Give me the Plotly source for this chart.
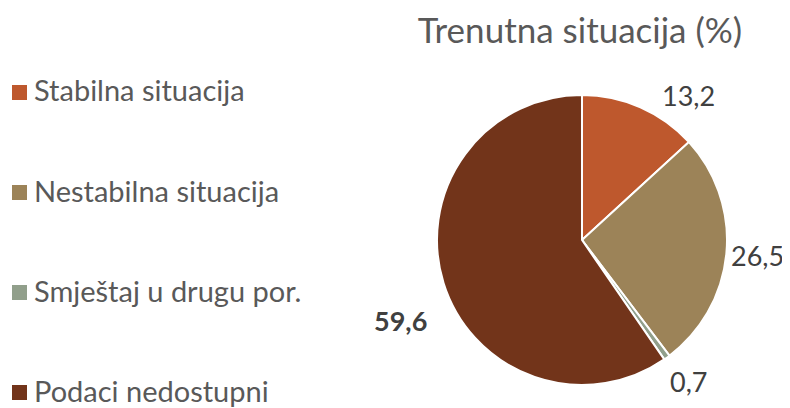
import plotly.graph_objects as go

categories = ["Stabilna situacija", "Nestabilna situacija", "Smještaj u drugu por.", "Podaci nedostupni"]
values = [13.2, 26.5, 0.7, 59.6]
value_labels = ["13,2", "26,5", "0,7", "59,6"]
colors = ["#BE582D", "#9C8358", "#919F8B", "#72341A"]
title_text = "Trenutna situacija (%)"

FONT = "Lato, 'Open Sans', sans-serif"
# the page body adds an 8px offset; size the figure to the visible area
OFF = 8
W, H = 790 - OFF, 408 - OFF


def fx(x):
    return (x - OFF) / W


def fy(y):
    return 1 - (y - OFF) / H


fig = go.Figure()
fig.add_trace(go.Pie(
    labels=categories,
    values=values,
    sort=False,
    direction="clockwise",
    rotation=0,
    marker=dict(colors=colors, line=dict(color="white", width=2)),
    textinfo="none",
    hoverinfo="label+value",
    showlegend=False,
    domain=dict(x=[fx(437), fx(727)], y=[fy(385), fy(95)]),
))

# legend (drawn as squares + text, evenly spaced down the left side)
leg_top, leg_step = 92, 100
for i, (name, col) in enumerate(zip(categories, colors)):
    cy = leg_top + i * leg_step
    fig.add_shape(type="rect", xref="paper", yref="paper",
                  x0=fx(12), x1=fx(27), y0=fy(cy + 8), y1=fy(cy - 7),
                  fillcolor=col, line=dict(width=0))
    fig.add_annotation(x=fx(33), y=fy(cy - 2), xref="paper", yref="paper",
                       text=name, showarrow=False, xanchor="left", yanchor="middle",
                       borderpad=0,
                       font=dict(family=FONT, size=29, color="#595959"))

# data labels
label_pos = [(688, 95), (757, 255), (688, 381), (400, 320)]
for i, (txt, (px, py)) in enumerate(zip(value_labels, label_pos)):
    fig.add_annotation(
        x=fx(px), y=fy(py), xref="paper", yref="paper",
        text=("<b>%s</b>" % txt) if i == 3 else txt, showarrow=False,
        font=dict(family=FONT, size=27, color="#404040"),
        xanchor="center", yanchor="middle",
    )

fig.update_layout(
    width=W, height=H,
    margin=dict(l=0, r=0, t=0, b=0),
    paper_bgcolor="white", plot_bgcolor="white",
    title=dict(text=title_text, x=fx(580), xanchor="center", y=fy(31), yanchor="middle",
               font=dict(family=FONT, size=35, color="#595959")),
    showlegend=False,
)

fig.write_html("out.html")
